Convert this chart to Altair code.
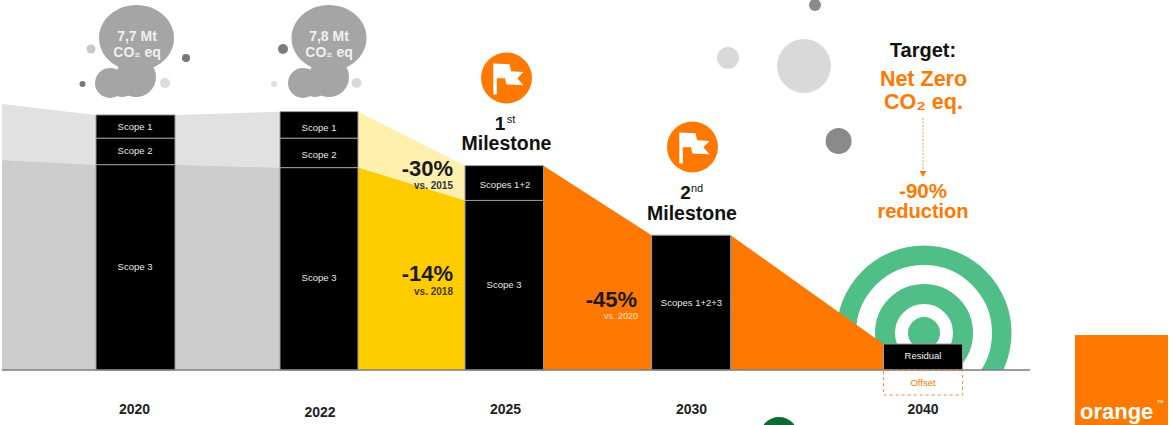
import altair as alt
import pandas as pd

FONT = "Liberation Sans"
ORANGE = "#ff7900"
BLACK = "#000000"

# Emission columns: horizontal extent and stacked segments, in Mt CO2 eq.
col_left = [96, 280, 465, 651.6, 883.5]
col_right = [175, 358, 543.5, 730.7, 962.6]
segments = pd.DataFrame(
    {
        "x0": [col_left[0]] * 3 + [col_left[1]] * 3 + [col_left[2]] * 2 + [col_left[3], col_left[4]],
        "x1": [col_right[0]] * 3 + [col_right[1]] * 3 + [col_right[2]] * 2 + [col_right[3], col_right[4]],
        "low": [0, 6.2, 7.0, 0, 6.11, 7.0, 0, 5.12, 0, 0],
        "high": [6.2, 7.0, 7.7, 6.11, 7.0, 7.8, 5.12, 6.17, 4.07, 0.785],
    }
)

# Trend bands between the columns.
bands = [
    ("#e1e1e1", [2, 96], [8.03, 7.7], [6.34, 6.2]),
    ("#cdcdcd", [2, 96], [6.34, 6.2], [0, 0]),
    ("#e1e1e1", [175, 280], [7.7, 7.8], [6.2, 6.11]),
    ("#cdcdcd", [175, 280], [6.2, 6.11], [0, 0]),
    ("#fff0ae", [358, 465], [7.8, 6.17], [6.11, 5.12]),
    ("#ffcc00", [358, 465], [6.11, 5.12], [0, 0]),
    (ORANGE, [543.5, 651.6], [6.17, 4.07], [0, 0]),
    (ORANGE, [730.7, 883.5], [4.07, 0.785], [0, 0]),
]

# Round decorations: centre, diameter, colour.
dots = [
    (91, 49, 9, "#c8c8c8"), (186, 58, 8, "#777777"), (82.5, 84, 6, "#777777"), (165, 83, 10, "#dcdcdc"),
    (283, 49, 10, "#7c7c7c"), (274, 84, 6, "#e0e0e0"), (356.5, 83, 10, "#d8d8d8"),
    (815, 5, 12, "#8a8a8a"), (728, 58, 22, "#d9d9d9"), (804, 66, 54, "#d9d9d9"), (838.6, 141, 26, "#8a8a8a"),
    (779, 436, 38, "#0b6b33"),
    (110, 83, 30, "#a5a5a5"), (136, 77, 40, "#a5a5a5"), (122, 84, 26, "#a5a5a5"),
    (303, 83, 30, "#a5a5a5"), (329, 77, 40, "#a5a5a5"), (315, 84, 26, "#a5a5a5"),
    (506.5, 78, 51, ORANGE), (692.5, 147, 51, ORANGE),
]

# Target rings: centre, mid-line diameter, stroke thickness; then the bullseye diameter.
rings = [(924, 333, 155.5, 19.5), (924, 333, 78, 20)]
bullseye = (924, 333, 32, "#50be87")

# Bubble bodies and milestone flags.
cloud_x = [136.5, 329]
cloud_y = [38, 38]
flag_x = [508, 694]
flag_y = [79, 148]
ELLIPSE = "M-1,0 A1,0.88 0 1 0 1,0 A1,0.88 0 1 0 -1,0 Z"
FLAG = (
    "M-0.95,-1 L0.1,-0.95 L0.2,-0.5 L1,-0.45 L0.6,-0.05 L1,0.4 L-0.1,0.35 "
    "L-0.2,-0.05 L-0.72,-0.05 L-0.72,1 L-0.95,1 Z"
)

# Text: label, x, y, size, bold, colour, alignment.
labels = [
    ("7,7 Mt", 137, 37, 14, True, "#f0f0f0", "center"),
    ("CO₂ eq", 137, 52.5, 14, True, "#f0f0f0", "center"),
    ("7,8 Mt", 329, 37, 14, True, "#f0f0f0", "center"),
    ("CO₂ eq", 329, 52.5, 14, True, "#f0f0f0", "center"),
    ("Scope 1", 135, 127, 9.5, False, "#e8e8e8", "center"),
    ("Scope 2", 135, 150.5, 9.5, False, "#e8e8e8", "center"),
    ("Scope 3", 135, 267, 9.5, False, "#e8e8e8", "center"),
    ("Scope 1", 319, 127.5, 9.5, False, "#e8e8e8", "center"),
    ("Scope 2", 319, 155, 9.5, False, "#e8e8e8", "center"),
    ("Scope 3", 319, 278, 9.5, False, "#e8e8e8", "center"),
    ("Scopes 1+2", 505, 185, 9.5, False, "#e8e8e8", "center"),
    ("Scope 3", 504, 285, 9.5, False, "#e8e8e8", "center"),
    ("Scopes 1+2+3", 691.5, 302.5, 9.5, False, "#e8e8e8", "center"),
    ("Residual", 923, 356, 9.5, False, "#f0f0f0", "center"),
    ("Offset", 923, 383, 9.5, False, ORANGE, "center"),
    ("2020", 134.5, 410, 14, True, "#222222", "center"),
    ("2022", 320, 413, 14, True, "#222222", "center"),
    ("2025", 505.5, 410, 14, True, "#222222", "center"),
    ("2030", 691.5, 410, 14, True, "#222222", "center"),
    ("2040", 923, 410, 14, True, "#222222", "center"),
    ("1", 500, 124, 19, True, "#111111", "center"),
    ("st", 511, 120, 11, False, "#111111", "center"),
    ("Milestone", 506.5, 144, 19.5, True, "#111111", "center"),
    ("2", 685.5, 193, 19, True, "#111111", "center"),
    ("nd", 697, 189, 11, False, "#111111", "center"),
    ("Milestone", 692, 214, 19.5, True, "#111111", "center"),
    ("Target:", 923, 51, 20, True, "#111111", "center"),
    ("Net Zero", 923.5, 79.5, 21.5, True, ORANGE, "center"),
    ("CO₂ eq.", 923.5, 103, 21.5, True, ORANGE, "center"),
    ("-90%", 923, 191.5, 20.5, True, ORANGE, "center"),
    ("reduction", 923, 212, 20, True, ORANGE, "center"),
    ("-30%", 453, 168.5, 22, True, "#1a1a1a", "right"),
    ("vs. 2015", 453, 186, 10, True, "#333333", "right"),
    ("-14%", 453, 274, 22, True, "#1a1a1a", "right"),
    ("vs. 2018", 453, 292, 10, True, "#4a3c00", "right"),
    ("-45%", 637, 299.5, 22, True, "#1a1a1a", "right"),
    ("vs. 2020", 638, 316, 9, False, "#ffe2c4", "right"),
    ("orange", 1080, 412, 22, True, "#ffffff", "left"),
    ("™", 1160, 403, 7, False, "#ffffff", "center"),
]

mt_scale = alt.Scale(domain=[-1.66, 11.17], range=[425, 0], nice=False, zero=False)
x_scale = alt.Scale(domain=[0, 1171], range=[0, 1171], nice=False, zero=False)
y_scale = alt.Scale(domain=[0, 425], range=[0, 425], nice=False, zero=False)


def ex(field="x"):
    return alt.X(f"{field}:Q", scale=x_scale, axis=None)


def ey(field="y"):
    return alt.Y(f"{field}:Q", scale=y_scale, axis=None)


layers = []

# Target rings sit behind the emission shapes.
for cx, cy, diameter, thickness in rings:
    layers.append(
        alt.Chart(pd.DataFrame({"x": [cx], "y": [cy], "d": [diameter]}))
        .mark_point(filled=False, stroke="#50be87", strokeWidth=thickness, opacity=1, shape="circle", size=diameter**2)
        .encode(x=ex(), y=ey())
    )
layers.append(
    alt.Chart(pd.DataFrame({"x": [bullseye[0]], "y": [bullseye[1]]}))
    .mark_point(filled=True, color=bullseye[3], opacity=1, shape="circle", size=bullseye[2] ** 2)
    .encode(x=ex(), y=ey())
)

# Mask the rings under the baseline.
layers.append(
    alt.Chart(pd.DataFrame({"x": [820], "x2": [1030], "y": [370], "y2": [425]}))
    .mark_rect(color="#ffffff")
    .encode(x=ex(), x2="x2:Q", y=ey(), y2="y2:Q")
)

for colour, xs, tops, bottoms in bands:
    layers.append(
        alt.Chart(pd.DataFrame({"x": xs, "top": tops, "bottom": bottoms}))
        .mark_area(color=colour, opacity=1, interpolate="linear")
        .encode(x=ex(), y=alt.Y("top:Q", scale=mt_scale, axis=None), y2="bottom:Q")
    )

layers.append(
    alt.Chart(segments)
    .mark_rect(color=BLACK, stroke="#9a9a9a", strokeWidth=1)
    .encode(x=ex("x0"), x2="x1:Q", y=alt.Y("high:Q", scale=mt_scale, axis=None), y2="low:Q")
)

# Baseline and the dashed offset box under the 2040 column.
layers.append(
    alt.Chart(pd.DataFrame({"x": [2], "x2": [1030], "y": [0]}))
    .mark_rule(color="#7d7d7d", strokeWidth=1.5)
    .encode(x=ex(), x2="x2:Q", y=alt.Y("y:Q", scale=mt_scale, axis=None))
)
layers.append(
    alt.Chart(pd.DataFrame({"x": [883.5], "x2": [962.6], "top": [0], "bottom": [-0.755]}))
    .mark_rect(fillOpacity=0, stroke="#f28c3c", strokeWidth=1, strokeDash=[3, 3])
    .encode(x=ex(), x2="x2:Q", y=alt.Y("top:Q", scale=mt_scale, axis=None), y2="bottom:Q")
)

# Bubble bodies, loose dots and flag badges.
layers.append(
    alt.Chart(pd.DataFrame({"x": cloud_x, "y": cloud_y}))
    .mark_point(filled=True, color="#a5a5a5", opacity=1, shape=ELLIPSE, size=75**2)
    .encode(x=ex(), y=ey())
)
for px, py, diameter, colour in dots:
    layers.append(
        alt.Chart(pd.DataFrame({"x": [px], "y": [py]}))
        .mark_point(filled=True, color=colour, opacity=1, shape="circle", size=diameter**2)
        .encode(x=ex(), y=ey())
    )
layers.append(
    alt.Chart(pd.DataFrame({"x": flag_x, "y": flag_y}))
    .mark_point(filled=True, color="#ffffff", opacity=1, shape=FLAG, size=31**2)
    .encode(x=ex(), y=ey())
)

# Dotted pointer from the target down to the reduction figure.
layers.append(
    alt.Chart(pd.DataFrame({"x": [923], "y": [118], "y2": [172]}))
    .mark_rule(color="#f39a55", strokeWidth=1, strokeDash=[2, 1.5])
    .encode(x=ex(), y=ey(), y2="y2:Q")
)
layers.append(
    alt.Chart(pd.DataFrame({"x": [923], "y": [174]}))
    .mark_point(filled=True, color=ORANGE, opacity=1, shape="triangle-down", size=45)
    .encode(x=ex(), y=ey())
)

# Brand block.
layers.append(
    alt.Chart(pd.DataFrame({"x": [1075], "x2": [1168], "y": [335], "y2": [425]}))
    .mark_rect(color=ORANGE)
    .encode(x=ex(), x2="x2:Q", y=ey(), y2="y2:Q")
)

for label, px, py, size, bold, colour, align in labels:
    layers.append(
        alt.Chart(pd.DataFrame({"x": [px], "y": [py], "label": [label]}))
        .mark_text(
            font=FONT,
            fontSize=size,
            fontWeight="bold" if bold else "normal",
            color=colour,
            align=align,
            baseline="middle",
        )
        .encode(x=ex(), y=ey(), text="label:N")
    )

chart = (
    alt.layer(*layers)
    .resolve_scale(y="independent")
    .properties(
        width=1171,
        height=425,
        padding=0,
        background="#ffffff",
        autosize=alt.AutoSizeParams(type="none", contains="padding"),
    )
    .configure_view(stroke=None)
)

chart.save("out.html", embed_options={"renderer": "svg", "actions": False})
